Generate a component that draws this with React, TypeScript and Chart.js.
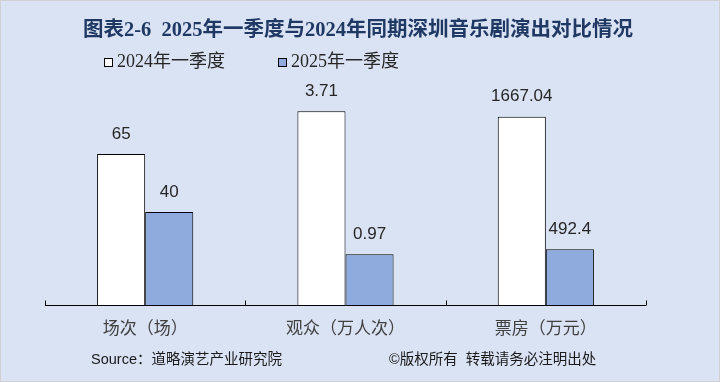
import React, { useEffect, useRef } from "react";
import { Chart, registerables } from "chart.js";

Chart.register(...registerables);

const titleText = "图表2-6  2025年一季度与2024年同期深圳音乐剧演出对比情况";
const categories = ["场次（场）", "观众（万人次）", "票房（万元）"];
const seriesNames = ["2024年一季度", "2025年一季度"];
const values2024 = [65, 3.71, 1667.04];
const values2025 = [40, 0.97, 492.4];
const valueLabels2024 = ["65", "3.71", "1667.04"];
const valueLabels2025 = ["40", "0.97", "492.4"];
// each category is drawn on its own value scale (0 .. max)
const categoryAxisMax = [90, 4, 1850];
const sourceText = "Source：道略演艺产业研究院";
const copyrightText = "©版权所有  转载请务必注明出处";

const BG = "#DAE3F3";
const COLOR_2024 = "#FFFFFF";
const COLOR_2025 = "#8FAADC";
const TITLE_COLOR = "#1F3864";
const CJK = '"Noto Sans CJK SC"';

const norm = (arr: number[]) => arr.map((v, i) => v / categoryAxisMax[i]);

const decorPlugin = {
  id: "decor",
  beforeDraw(chart: any) {
    const ctx = chart.ctx;
    ctx.save();
    ctx.fillStyle = BG;
    ctx.fillRect(0, 0, chart.width, chart.height);
    ctx.strokeStyle = "#D0D0D0";
    ctx.lineWidth = 1;
    ctx.strokeRect(0.5, 0.5, chart.width - 1, chart.height - 1);

    // title
    ctx.fillStyle = TITLE_COLOR;
    ctx.font = `bold 20.5px "Liberation Serif", ${CJK}`;
    ctx.textAlign = "center";
    ctx.textBaseline = "middle";
    ctx.fillText(titleText, 358, 31);

    // legend
    const legendItems = [
      { x: 104, color: COLOR_2024, text: seriesNames[0] },
      { x: 278, color: COLOR_2025, text: seriesNames[1] },
    ];
    ctx.font = `18px "Liberation Serif", ${CJK}`;
    ctx.textAlign = "left";
    legendItems.forEach((it) => {
      ctx.fillStyle = it.color;
      ctx.fillRect(it.x, 58, 9, 9);
      ctx.strokeStyle = "#000";
      ctx.lineWidth = 1;
      ctx.strokeRect(it.x + 0.5, 58.5, 8, 8);
      ctx.fillStyle = "#262626";
      ctx.fillText(it.text, it.x + 13, 62);
    });

    // footer
    ctx.fillStyle = "#1A1A1A";
    ctx.font = `14.5px "Liberation Sans", ${CJK}`;
    ctx.fillText(sourceText, 91, 360);
    ctx.fillText(copyrightText, 389, 360);
    ctx.restore();
  },
  afterDatasetsDraw(chart: any) {
    const ctx = chart.ctx;
    const xs = chart.scales.x;
    const area = chart.chartArea;
    ctx.save();
    // axis line and tick marks
    ctx.strokeStyle = "#000";
    ctx.lineWidth = 1;
    const yb = Math.round(area.bottom) + 0.5;
    ctx.beginPath();
    ctx.moveTo(area.left, yb);
    ctx.lineTo(area.right, yb);
    const n = categories.length;
    const bounds: number[] = [area.left];
    for (let i = 0; i < n - 1; i++) {
      bounds.push((xs.getPixelForValue(i) + xs.getPixelForValue(i + 1)) / 2);
    }
    bounds.push(area.right);
    bounds.forEach((bx) => {
      const px = Math.round(bx) + 0.5;
      ctx.moveTo(px, yb);
      ctx.lineTo(px, yb - 5);
    });
    ctx.stroke();

    // category labels
    ctx.fillStyle = "#404040";
    ctx.font = `17px ${CJK}`;
    ctx.textAlign = "center";
    ctx.textBaseline = "middle";
    categories.forEach((c, i) => {
      ctx.fillText(c, xs.getPixelForValue(i), 328);
    });

    // value labels
    ctx.fillStyle = "#262626";
    ctx.font = `17px "Liberation Sans", Arial, sans-serif`;
    const labelSets = [valueLabels2024, valueLabels2025];
    labelSets.forEach((labels, d) => {
      const meta = chart.getDatasetMeta(d);
      meta.data.forEach((el: any, i: number) => {
        ctx.fillText(labels[i], el.x, el.y - 20);
      });
    });
    ctx.restore();
  },
};

export default function App() {
  const ref = useRef<HTMLCanvasElement | null>(null);
  useEffect(() => {
    if (!ref.current) return;
    const chart = new Chart(ref.current, {
      type: "bar",
      data: {
        labels: categories,
        datasets: [
          {
            label: seriesNames[0],
            data: norm(values2024),
            backgroundColor: COLOR_2024,
            borderColor: "#000",
            borderWidth: 1,
            categoryPercentage: 0.48,
            barPercentage: 1,
          },
          {
            label: seriesNames[1],
            data: norm(values2025),
            backgroundColor: COLOR_2025,
            borderColor: "#000",
            borderWidth: 1,
            categoryPercentage: 0.48,
            barPercentage: 1,
          },
        ],
      },
      options: {
        responsive: false,
        animation: false,
        devicePixelRatio: 1,
        layout: { padding: { left: 45, right: 74, top: 96, bottom: 77 } },
        plugins: {
          legend: { display: false },
          title: { display: false },
          tooltip: { enabled: false },
        },
        scales: {
          x: { display: false, offset: true },
          y: { display: false, min: 0, max: 1 },
        },
      },
      plugins: [decorPlugin],
    });
    return () => chart.destroy();
  }, []);
  return (
    <div style={{ position: "fixed", left: 0, top: 0, width: 720, height: 382 }}>
      <canvas ref={ref} width={720} height={382} style={{ display: "block" }} />
    </div>
  );
}
